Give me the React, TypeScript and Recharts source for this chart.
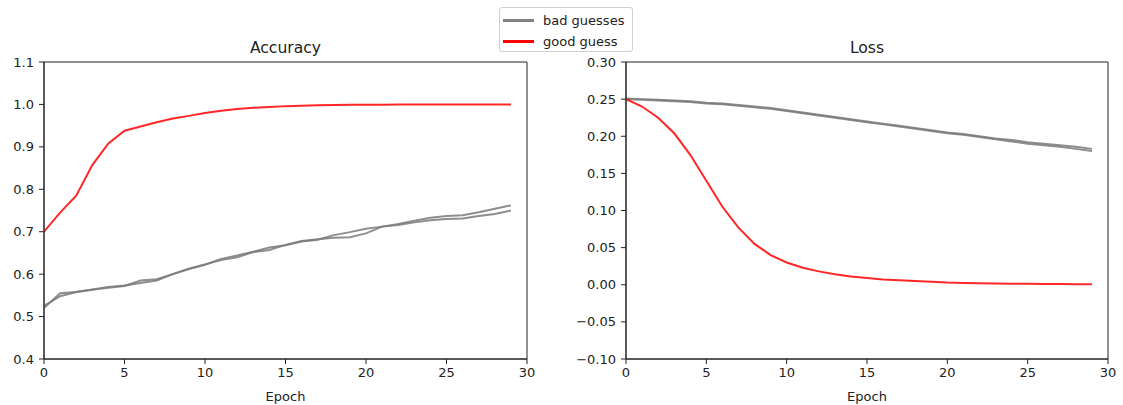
import React from 'react';
import { LineChart, Line, XAxis, YAxis, ReferenceArea } from 'recharts';

const epochs = Array.from({ length: 30 }, (_, i) => i);

const accGood = [0.700, 0.745, 0.785, 0.857, 0.908, 0.938, 0.948, 0.958, 0.967, 0.973, 0.980, 0.985, 0.989, 0.992, 0.994, 0.996, 0.997, 0.998, 0.9985, 0.999, 0.9993, 0.9995, 0.9996, 0.9997, 0.9997, 0.9998, 0.9998, 0.9999, 0.9999, 0.9999];
const accBad1 = [0.520, 0.555, 0.558, 0.563, 0.568, 0.572, 0.585, 0.588, 0.600, 0.612, 0.622, 0.636, 0.644, 0.653, 0.663, 0.668, 0.677, 0.681, 0.692, 0.699, 0.707, 0.712, 0.716, 0.722, 0.727, 0.730, 0.731, 0.737, 0.742, 0.750];
const accBad2 = [0.525, 0.548, 0.558, 0.564, 0.570, 0.573, 0.579, 0.585, 0.600, 0.613, 0.623, 0.633, 0.640, 0.652, 0.657, 0.669, 0.678, 0.682, 0.686, 0.687, 0.696, 0.712, 0.718, 0.726, 0.733, 0.737, 0.739, 0.746, 0.754, 0.762];

const lossGood = [0.250, 0.240, 0.225, 0.204, 0.175, 0.140, 0.105, 0.077, 0.055, 0.040, 0.030, 0.023, 0.018, 0.014, 0.011, 0.009, 0.007, 0.006, 0.005, 0.004, 0.003, 0.0025, 0.002, 0.0017, 0.0014, 0.0012, 0.001, 0.0009, 0.0008, 0.0007];
const lossBad1 = [0.251, 0.250, 0.249, 0.248, 0.247, 0.245, 0.244, 0.242, 0.240, 0.238, 0.235, 0.232, 0.229, 0.226, 0.223, 0.220, 0.217, 0.214, 0.211, 0.208, 0.205, 0.203, 0.200, 0.197, 0.195, 0.192, 0.190, 0.188, 0.186, 0.183];
const lossBad2 = [0.250, 0.249, 0.248, 0.247, 0.246, 0.244, 0.243, 0.241, 0.239, 0.237, 0.234, 0.231, 0.228, 0.225, 0.222, 0.219, 0.216, 0.213, 0.210, 0.207, 0.204, 0.202, 0.199, 0.196, 0.193, 0.190, 0.188, 0.186, 0.183, 0.180];

const xTicks = [0, 5, 10, 15, 20, 25, 30];
const accTicks = [0.4, 0.5, 0.6, 0.7, 0.8, 0.9, 1.0, 1.1];
const lossTicks = [-0.10, -0.05, 0.0, 0.05, 0.10, 0.15, 0.20, 0.25, 0.30];

const legendItems = [
  { label: 'bad guesses', color: '#808080' },
  { label: 'good guess', color: '#ff0000' },
];

const accData = epochs.map((e, i) => ({ epoch: e, good: accGood[i], bad1: accBad1[i], bad2: accBad2[i] }));
const lossData = epochs.map((e, i) => ({ epoch: e, good: lossGood[i], bad1: lossBad1[i], bad2: lossBad2[i] }));

const FONT = '"DejaVu Sans", sans-serif';
const tickStyle = { fontSize: 13, fill: '#222', fontFamily: FONT };
const GRAY = '#7a7a7a';
const RED = '#ff0000';

const fmt = (d: number) => (v: number) => v.toFixed(d).replace('-', '\u2212');

function Panel({ data, yDomain, yTicks, decimals, title, left, width, axisW, rightM }: any) {
  const plotW = width - axisW - rightM;
  return (
    <div style={{ position: 'absolute', left, top: 0, width, height: 405 }}>
      <div style={{ position: 'absolute', left: axisW, top: 39, width: plotW, textAlign: 'center', fontFamily: FONT, fontSize: 15.6, color: '#222', lineHeight: '18px' }}>
        {title}
      </div>
      <LineChart width={width} height={405} data={data} margin={{ top: 62, right: rightM, bottom: 0, left: 0 }}>
        <XAxis
          dataKey="epoch"
          type="number"
          domain={[0, 30]}
          ticks={xTicks}
          allowDataOverflow
          height={46}
          tickSize={5}
          tickMargin={4}
          tick={tickStyle}
          stroke="#222"
          axisLine={{ stroke: '#222' }}
          label={{ value: 'Epoch', position: 'insideBottom', offset: 4, style: { fontSize: 13, fill: '#222', fontFamily: FONT } }}
        />
        <YAxis
          type="number"
          domain={yDomain}
          ticks={yTicks}
          allowDataOverflow
          width={axisW}
          tickSize={5}
          tickMargin={5}
          tick={tickStyle}
          tickFormatter={fmt(decimals)}
          stroke="#222"
          axisLine={{ stroke: '#222' }}
        />
        <ReferenceArea x1={0} x2={30} y1={yDomain[0]} y2={yDomain[1]} fill="none" stroke="#222" strokeWidth={1} ifOverflow="visible" />
        <Line dataKey="bad1" stroke={GRAY} strokeOpacity={0.85} strokeWidth={2} dot={false} isAnimationActive={false} type="linear" />
        <Line dataKey="bad2" stroke={GRAY} strokeOpacity={0.85} strokeWidth={2} dot={false} isAnimationActive={false} type="linear" />
        <Line dataKey="good" stroke={RED} strokeOpacity={0.85} strokeWidth={2} dot={false} isAnimationActive={false} type="linear" />
      </LineChart>
    </div>
  );
}

export default function App() {
  return (
    <div style={{ position: 'absolute', left: 0, top: 0, width: 1123, height: 405, background: '#fff' }}>
      <Panel data={accData} yDomain={[0.4, 1.1]} yTicks={accTicks} decimals={1} title="Accuracy" left={0} width={560} axisW={44} rightM={33} />
      <Panel data={lossData} yDomain={[-0.1, 0.3]} yTicks={lossTicks} decimals={2} title="Loss" left={560} width={563} axisW={66} rightM={15} />
      <div style={{ position: 'absolute', left: 499, top: 7, width: 134, height: 45, boxSizing: 'border-box', border: '1px solid #d0d0d0', borderRadius: 3, background: '#fff', fontFamily: FONT, fontSize: 13, color: '#222' }}>
        {legendItems.map((it, i) => (
          <div key={it.label} style={{ position: 'absolute', left: 3, top: 3 + i * 21, height: 18, display: 'flex', alignItems: 'center' }}>
            <div style={{ width: 31, height: 3, background: it.color }} />
            <span style={{ marginLeft: 9, whiteSpace: 'nowrap' }}>{it.label}</span>
          </div>
        ))}
      </div>
    </div>
  );
}
